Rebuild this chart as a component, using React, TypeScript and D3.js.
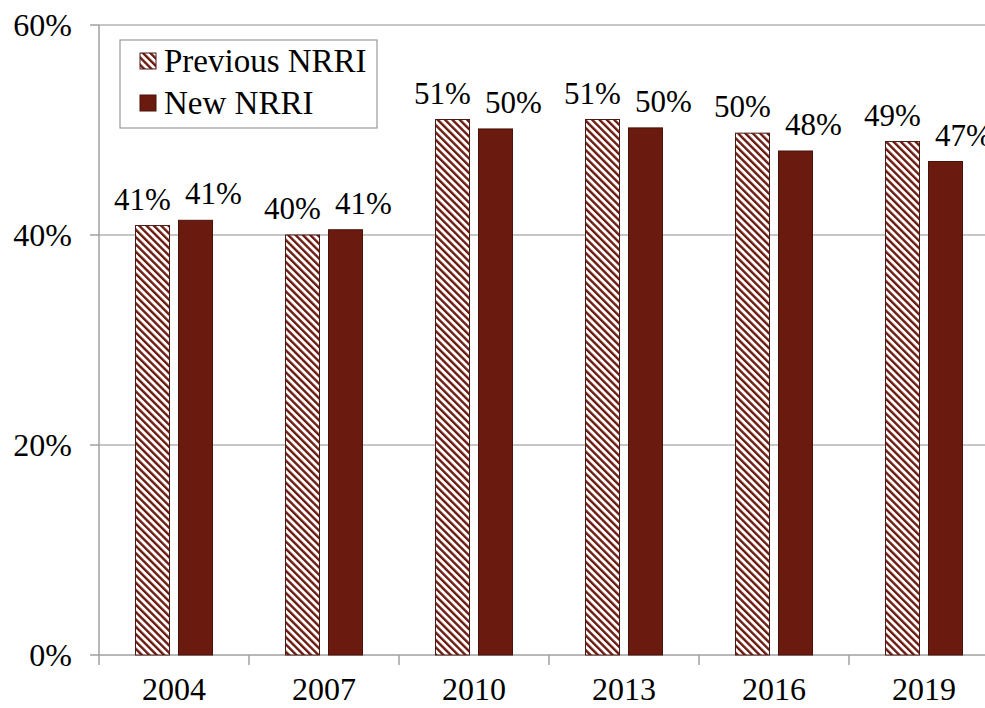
import React, { useEffect, useRef } from "react";
import * as d3 from "d3";

const years = ["2004", "2007", "2010", "2013", "2016", "2019"];
const previousNrri = [40.9, 40.0, 51.0, 51.0, 49.7, 48.9];
const newNrri = [41.4, 40.5, 50.1, 50.2, 48.0, 47.0];
const previousLabels = ["41%", "40%", "51%", "51%", "50%", "49%"];
const newLabels = ["41%", "41%", "50%", "50%", "48%", "47%"];
const yTicks = [0, 20, 40, 60];

const App = () => {
  const ref = useRef<SVGSVGElement>(null);

  useEffect(() => {
    const svg = d3.select(ref.current);
    svg.selectAll("*").remove();

    const dark = "#6b1a10";
    const font = "'Liberation Serif', 'Times New Roman', serif";

    // plot area
    const left = 99, top = 25, bottom = 655;
    const bandW = 150;

    const x = d3.scaleBand()
      .domain(years)
      .range([left, left + bandW * years.length])
      .paddingInner(0)
      .paddingOuter(0);
    const y = d3.scaleLinear().domain([0, 60]).range([bottom, top]);

    // hatch pattern
    const defs = svg.append("defs");
    const pat = defs.append("pattern")
      .attr("id", "hatch")
      .attr("patternUnits", "userSpaceOnUse")
      .attr("width", 5.2)
      .attr("height", 5.2)
      .attr("patternTransform", "rotate(-45)");
    pat.append("rect").attr("width", 5.2).attr("height", 5.2).attr("fill", "#fff");
    pat.append("rect").attr("width", 2.4).attr("height", 5.2).attr("fill", dark);

    // gridlines
    svg.append("g")
      .selectAll("line")
      .data(yTicks.filter(d => d > 0))
      .enter()
      .append("line")
      .attr("x1", left)
      .attr("x2", 985)
      .attr("y1", d => y(d))
      .attr("y2", d => y(d))
      .attr("stroke", "#b3b3b3")
      .attr("stroke-width", 1.3);

    // y axis line + tick marks
    svg.append("line")
      .attr("x1", left).attr("x2", left)
      .attr("y1", top).attr("y2", bottom)
      .attr("stroke", "#a0a0a0").attr("stroke-width", 1.5);
    svg.append("g")
      .selectAll("line")
      .data(yTicks)
      .enter()
      .append("line")
      .attr("x1", left - 9).attr("x2", left)
      .attr("y1", d => y(d)).attr("y2", d => y(d))
      .attr("stroke", "#a0a0a0").attr("stroke-width", 1.5);

    svg.append("g")
      .selectAll("text")
      .data(yTicks)
      .enter()
      .append("text")
      .attr("x", 72)
      .attr("y", d => y(d) + 11)
      .attr("text-anchor", "end")
      .style("font-family", font)
      .style("font-size", "32px")
      .text(d => d + "%");

    // x axis
    svg.append("line")
      .attr("x1", left).attr("x2", 985)
      .attr("y1", bottom).attr("y2", bottom)
      .attr("stroke", "#a0a0a0").attr("stroke-width", 1.5);
    svg.append("g")
      .selectAll("line")
      .data(years.concat(["end"]))
      .enter()
      .append("line")
      .attr("x1", (d, i) => left + i * bandW)
      .attr("x2", (d, i) => left + i * bandW)
      .attr("y1", bottom).attr("y2", bottom + 10)
      .attr("stroke", "#a0a0a0").attr("stroke-width", 1.5);

    svg.append("g")
      .selectAll("text")
      .data(years)
      .enter()
      .append("text")
      .attr("x", d => x(d)! + bandW / 2)
      .attr("y", 700)
      .attr("text-anchor", "middle")
      .style("font-family", font)
      .style("font-size", "32px")
      .text(d => d);

    // bars
    const barW = 34, gap = 9;
    const prevX = (d: string) => x(d)! + bandW / 2 - gap / 2 - barW;
    const newX = (d: string) => x(d)! + bandW / 2 + gap / 2;

    svg.append("g")
      .selectAll("rect")
      .data(years)
      .enter()
      .append("rect")
      .attr("x", d => prevX(d))
      .attr("y", (d, i) => y(previousNrri[i]))
      .attr("width", barW)
      .attr("height", (d, i) => bottom - y(previousNrri[i]))
      .attr("fill", "url(#hatch)")
      .attr("stroke", "#4a1a14")
      .attr("stroke-width", 1);

    svg.append("g")
      .selectAll("rect")
      .data(years)
      .enter()
      .append("rect")
      .attr("x", d => newX(d))
      .attr("y", (d, i) => y(newNrri[i]))
      .attr("width", barW)
      .attr("height", (d, i) => bottom - y(newNrri[i]))
      .attr("fill", dark)
      .attr("stroke", "#4a1208")
      .attr("stroke-width", 1);

    // data labels
    svg.append("g")
      .selectAll("text")
      .data(years)
      .enter()
      .append("text")
      .attr("x", d => prevX(d) + barW / 2 - 10)
      .attr("y", (d, i) => y(previousNrri[i]) - 16)
      .attr("text-anchor", "middle")
      .style("font-family", font)
      .style("font-size", "31px")
      .text((d, i) => previousLabels[i]);

    svg.append("g")
      .selectAll("text")
      .data(years)
      .enter()
      .append("text")
      .attr("x", d => newX(d) + barW / 2 + 18)
      .attr("y", (d, i) => y(newNrri[i]) - 16)
      .attr("text-anchor", "middle")
      .style("font-family", font)
      .style("font-size", "31px")
      .text((d, i) => newLabels[i]);

    // legend
    const lg = svg.append("g");
    lg.append("rect")
      .attr("x", 120).attr("y", 40)
      .attr("width", 257).attr("height", 88)
      .attr("fill", "#fff")
      .attr("stroke", "#999").attr("stroke-width", 1.2);
    lg.append("rect")
      .attr("x", 140).attr("y", 53).attr("width", 16).attr("height", 16)
      .attr("fill", "url(#hatch)").attr("stroke", "#4a1a14");
    lg.append("rect")
      .attr("x", 140).attr("y", 95).attr("width", 16).attr("height", 16)
      .attr("fill", dark).attr("stroke", "#4a1208");
    lg.append("text")
      .attr("x", 164).attr("y", 72)
      .style("font-family", font).style("font-size", "33px")
      .text("Previous NRRI");
    lg.append("text")
      .attr("x", 164).attr("y", 114)
      .style("font-family", font).style("font-size", "33px")
      .text("New NRRI");
  }, []);

  return (
    <svg ref={ref} width={985} height={708}
      style={{ position: "absolute", left: 0, top: 0, background: "#fff" }}></svg>
  );
};

export default App;
